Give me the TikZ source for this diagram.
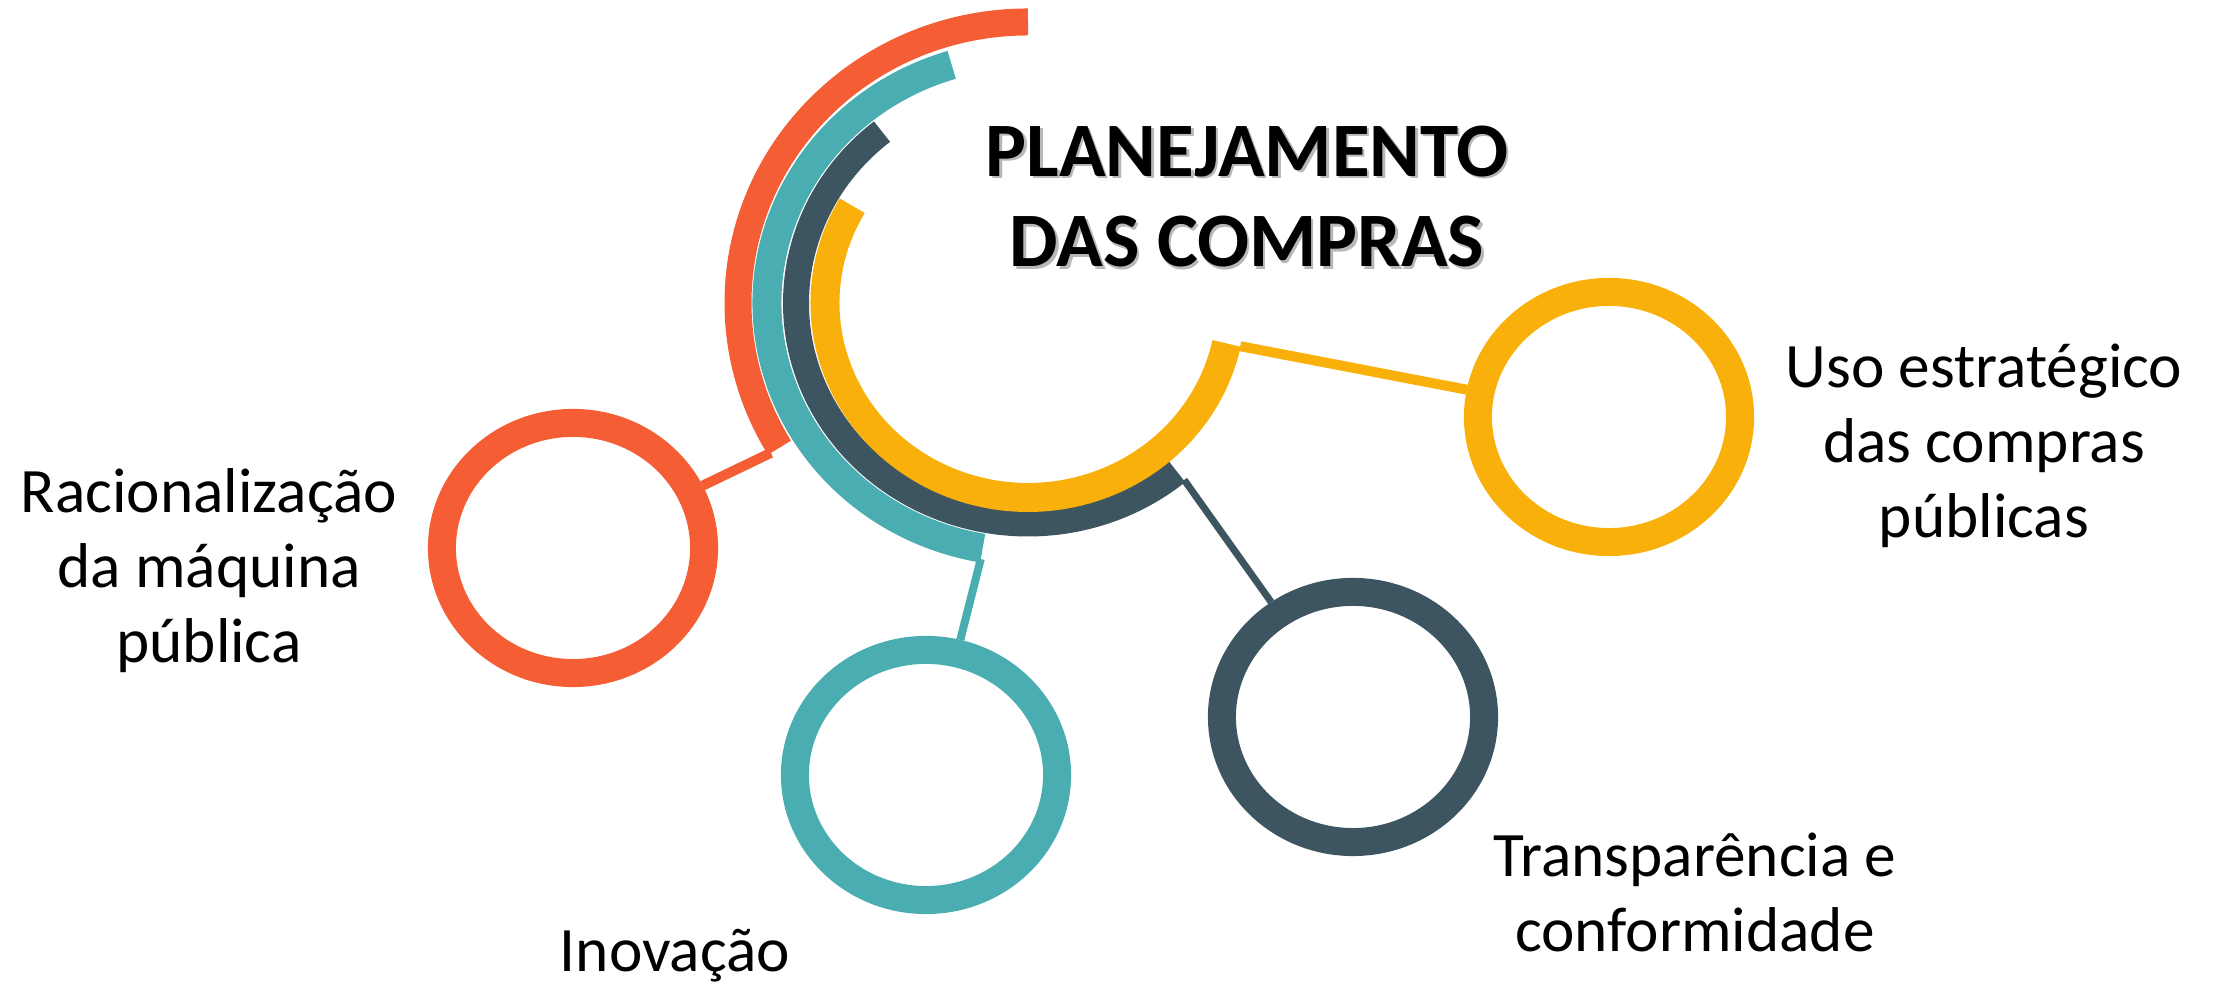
\documentclass[tikz,border=0pt]{standalone}
\usepackage{fontspec}
\setmainfont{Carlito}
\usetikzlibrary{calc, shapes.geometric}

\definecolor{ringorange}{HTML}{F55D34}
\definecolor{ringteal}{HTML}{49ADB2}
\definecolor{ringslate}{HTML}{3D5461}
\definecolor{ringyellow}{HTML}{F9B00A}

\begin{document}
\begin{tikzpicture}[x=0.01cm, y=0.01cm,
        ring/.style={ellipse, draw=#1, line width=2.8mm, inner sep=0pt,
            minimum width=2.62cm, minimum height=2.5cm},
        link/.style={draw=#1, line width=0.9mm},
        itemtext/.style={align=center, anchor=base, inner sep=0pt,
            font=\fontsize{18}{21.4}\selectfont},
        titletext/.style={align=center, anchor=base, inner sep=0pt,
            font=\bfseries\fontsize{21.9}{25.8}\selectfont}]
            \useasboundingbox (0, 0) rectangle (2227, 986);

            % big arcs round the hub
            \coordinate (hub) at (1028, 683);
            \draw [ringorange, line width=2.7mm] ($(hub)+(90:290 and 281)$)
                arc[start angle=90, end angle=211, x radius=290, y radius=281];
            \draw [ringteal, line width=2.9mm] ($(hub)+(107:261 and 249)$)
                arc[start angle=107, end angle=260, x radius=261, y radius=249];
            \draw [ringslate, line width=2.6mm] ($(hub)+(129:232 and 220.5)$)
                arc[start angle=129, end angle=310, x radius=232, y radius=220.5];
            \draw [ringyellow, line width=2.9mm] ($(hub)+(150:203 and 194.5)$)
                arc[start angle=150, end angle=348, x radius=203, y radius=194.5];

            \coordinate (orangeend) at ($(hub)+(211:300 and 291)$);
            \coordinate (tealend) at ($(hub)+(260:272 and 260)$);
            \coordinate (slateend) at ($(hub)+(310:243 and 231)$);
            \coordinate (yellowend) at ($(hub)+(348:217 and 208)$);

            % small rings
            \node [ring=ringorange] (racional) at (573, 438) {};
            \node [ring=ringteal] (inovacao) at (926, 211) {};
            \node [ring=ringslate] (transparencia) at (1353, 269) {};
            \node [ring=ringyellow] (estrategico) at (1609, 569) {};

            \draw [link=ringorange, line width=1mm] (orangeend) -- (racional);
            \draw [link=ringteal, line width=0.8mm] (tealend) -- (inovacao);
            \draw [link=ringslate, line width=0.7mm] (slateend) -- (transparencia);
            \draw [link=ringyellow, line width=1mm] (yellowend) -- (estrategico);

            % titles
            \node [titletext, text=black!28] (titleshadow) at (1249.5, 716.5)
                {PLANEJAMENTO\\DAS COMPRAS};
            \node [titletext] (title) at (1247, 719)
                {PLANEJAMENTO\\DAS COMPRAS};

            \node [itemtext] (racionaltext) at (209, 323)
                {Racionalização\\da máquina\\pública};
            \node [itemtext] (inovacaotext) at (675, 14) {Inovação};
            \node [itemtext] (transparenciatext) at (1695, 34)
                {Transparência e\\conformidade};
            \node [itemtext] (estrategicotext) at (1984, 448)
                {Uso estratégico\\das compras\\públicas};

        \end{tikzpicture}
\end{document}
